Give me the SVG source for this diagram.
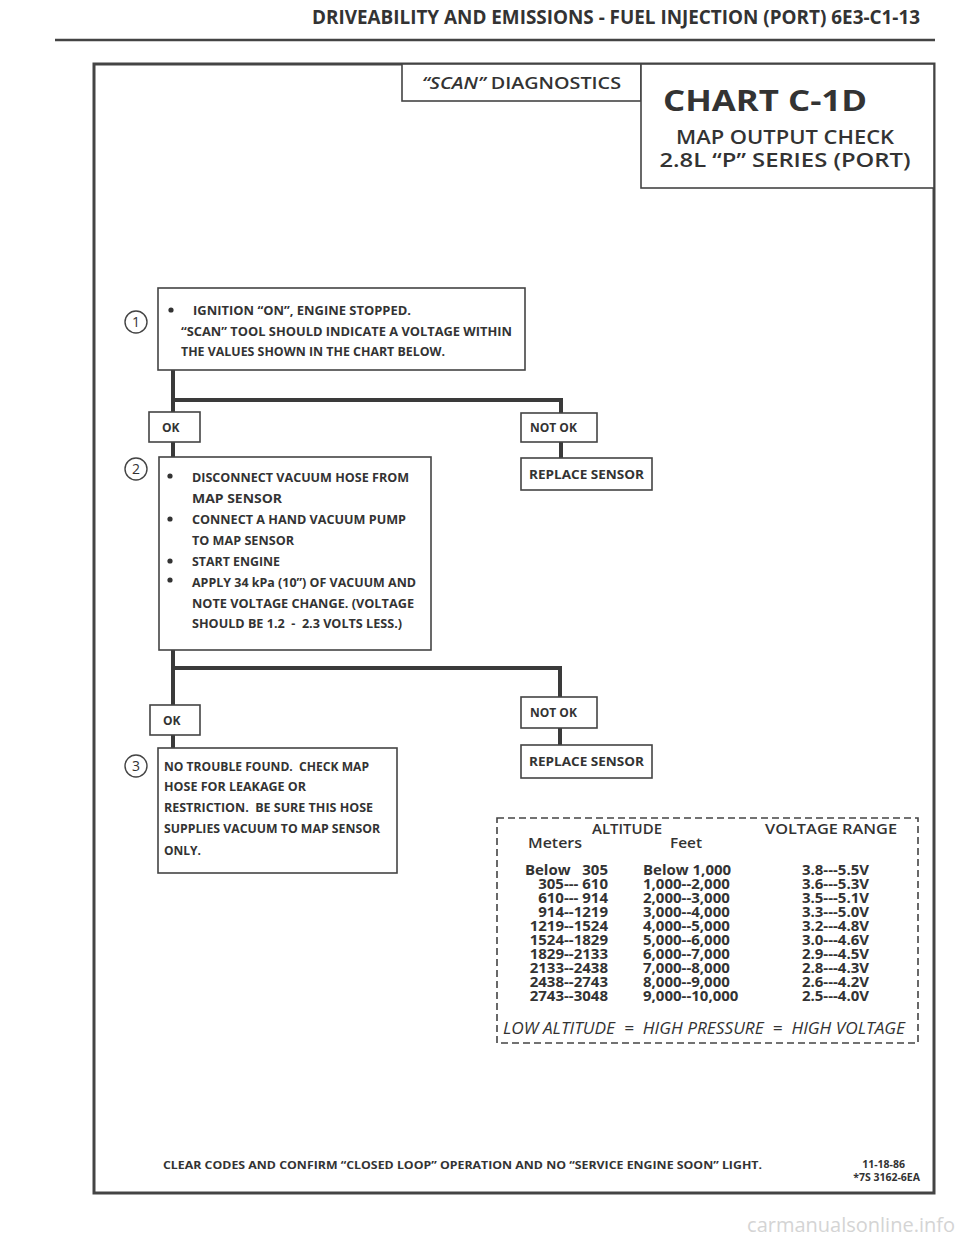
<svg xmlns="http://www.w3.org/2000/svg" width="960" height="1242" viewBox="0 0 960 1242">
<style>
text{font-family:"Open Sans","Liberation Sans",sans-serif;fill:#333;}
.b{font-weight:700;}
.s{font-weight:600;}
.box{fill:#fff;stroke:#444;stroke-width:1.6;}
.frame{fill:none;stroke:#444;stroke-width:3;}
.con{fill:none;stroke:#3a3a3a;stroke-width:4;}
.t12{font-size:12px;font-weight:700;}
.row{font-size:15px;font-weight:700;}
.num{font-size:14px;text-anchor:middle;}
.circ{fill:#fff;stroke:#444;stroke-width:1.4;}
.dot{fill:#333;}
</style>
<rect width="960" height="1242" fill="#fff"/>

<g id="header">
<text x="312" y="24" class="b" font-size="20" textLength="608" lengthAdjust="spacingAndGlyphs">DRIVEABILITY AND EMISSIONS - FUEL INJECTION (PORT)  6E3-C1-13</text>
<line x1="55" y1="40" x2="935" y2="40" stroke="#444" stroke-width="2.5"/>
</g>

<rect class="frame" x="94" y="64" width="840" height="1129"/>

<g id="scan-diagnostics">
<rect class="box" x="402" y="64" width="239" height="37"/>
<text x="422" y="89" class="s" font-size="16" textLength="199" lengthAdjust="spacingAndGlyphs"><tspan font-style="italic">“SCAN”</tspan> DIAGNOSTICS</text>
</g>

<g id="chart-title">
<rect class="box" x="641" y="64" width="293" height="124"/>
<text x="765" y="111" class="b" font-size="28" text-anchor="middle" textLength="204" lengthAdjust="spacingAndGlyphs">CHART C-1D</text>
<text x="785" y="144" class="s" font-size="20" text-anchor="middle" textLength="218" lengthAdjust="spacingAndGlyphs">MAP OUTPUT CHECK</text>
<text x="785" y="167" class="s" font-size="20" text-anchor="middle" textLength="251" lengthAdjust="spacingAndGlyphs">2.8L  “P”  SERIES  (PORT)</text>
</g>

<g id="connectors">
<path class="con" d="M173 370 V412 M173 400 H561 V413"/>
<path class="con" d="M173 442 V457"/>
<path class="con" d="M561 442 V458"/>
<path class="con" d="M173 650 V705 M173 668 H560 V697"/>
<path class="con" d="M173 735 V748"/>
<path class="con" d="M560 728 V745"/>
</g>

<g id="step1">
<circle class="circ" cx="136" cy="322" r="11"/>
<text x="136" y="327" class="num">1</text>
<rect class="box" x="158" y="288" width="367" height="82"/>
<circle class="dot" cx="171" cy="310" r="2.6"/>
<text x="193" y="315" class="t12" font-size="11.5" textLength="218" lengthAdjust="spacingAndGlyphs">IGNITION “ON”, ENGINE STOPPED.</text>
<text x="181" y="336" class="t12" font-size="11.5" textLength="331" lengthAdjust="spacingAndGlyphs">“SCAN” TOOL SHOULD INDICATE A VOLTAGE WITHIN</text>
<text x="181" y="356" class="t12" font-size="11.5" textLength="264" lengthAdjust="spacingAndGlyphs">THE VALUES SHOWN IN THE CHART BELOW.</text>
</g>

<g id="ok1">
<rect class="box" x="149" y="412" width="51" height="30"/>
<text x="162" y="432" class="t12">OK</text>
</g>

<g id="notok1">
<rect class="box" x="521" y="413" width="76" height="29"/>
<text x="530" y="432" class="t12">NOT OK</text>
</g>

<g id="replace1">
<rect class="box" x="521" y="458" width="131" height="32"/>
<text x="529" y="479" class="t12" textLength="115" lengthAdjust="spacingAndGlyphs">REPLACE SENSOR</text>
</g>

<g id="step2">
<circle class="circ" cx="136" cy="469" r="11"/>
<text x="136" y="474" class="num">2</text>
<rect class="box" x="159" y="457" width="272" height="193"/>
<circle class="dot" cx="170" cy="476" r="2.6"/>
<text x="192" y="482" class="t12" textLength="217" lengthAdjust="spacingAndGlyphs">DISCONNECT  VACUUM HOSE FROM</text>
<text x="192" y="503" class="t12" textLength="90" lengthAdjust="spacingAndGlyphs">MAP SENSOR</text>
<circle class="dot" cx="170" cy="519" r="2.6"/>
<text x="192" y="524" class="t12" textLength="214" lengthAdjust="spacingAndGlyphs">CONNECT  A HAND  VACUUM PUMP</text>
<text x="192" y="545" class="t12" textLength="102" lengthAdjust="spacingAndGlyphs">TO MAP SENSOR</text>
<circle class="dot" cx="170" cy="561" r="2.6"/>
<text x="192" y="566" class="t12" textLength="88" lengthAdjust="spacingAndGlyphs">START ENGINE</text>
<circle class="dot" cx="170" cy="580" r="2.6"/>
<text x="192" y="587" class="t12" textLength="224" lengthAdjust="spacingAndGlyphs">APPLY 34 kPa (10”) OF VACUUM AND</text>
<text x="192" y="608" class="t12" textLength="222" lengthAdjust="spacingAndGlyphs">NOTE VOLTAGE CHANGE.  (VOLTAGE</text>
<text x="192" y="628" class="t12" textLength="210" lengthAdjust="spacingAndGlyphs" xml:space="preserve">SHOULD BE 1.2  -  2.3 VOLTS LESS.)</text>
</g>

<g id="ok2">
<rect class="box" x="150" y="705" width="50" height="30"/>
<text x="163" y="725" class="t12">OK</text>
</g>

<g id="notok2">
<rect class="box" x="521" y="697" width="76" height="31"/>
<text x="530" y="717" class="t12">NOT OK</text>
</g>

<g id="replace2">
<rect class="box" x="521" y="745" width="131" height="33"/>
<text x="529" y="766" class="t12" textLength="115" lengthAdjust="spacingAndGlyphs">REPLACE SENSOR</text>
</g>

<g id="step3">
<circle class="circ" cx="136" cy="766" r="11"/>
<text x="136" y="771" class="num">3</text>
<rect class="box" x="158" y="748" width="239" height="125"/>
<text x="164" y="771" class="t12" textLength="205" lengthAdjust="spacingAndGlyphs" xml:space="preserve">NO TROUBLE FOUND.  CHECK MAP</text>
<text x="164" y="791" class="t12" textLength="142" lengthAdjust="spacingAndGlyphs">HOSE FOR LEAKAGE OR</text>
<text x="164" y="812" class="t12" textLength="209" lengthAdjust="spacingAndGlyphs" xml:space="preserve">RESTRICTION.  BE SURE THIS HOSE</text>
<text x="164" y="833" class="t12" textLength="216" lengthAdjust="spacingAndGlyphs">SUPPLIES VACUUM TO MAP SENSOR</text>
<text x="164" y="855" class="t12" textLength="37" lengthAdjust="spacingAndGlyphs">ONLY.</text>
</g>

<g id="altitude-table">
<rect x="497" y="818" width="421" height="225" fill="none" stroke="#444" stroke-width="1.6" stroke-dasharray="7 4"/>
<text x="592" y="834" class="s" font-size="15" textLength="70" lengthAdjust="spacingAndGlyphs">ALTITUDE</text>
<text x="765" y="834" class="s" font-size="15" textLength="132" lengthAdjust="spacingAndGlyphs">VOLTAGE RANGE</text>
<text x="528" y="848" class="s" font-size="15" textLength="54" lengthAdjust="spacingAndGlyphs">Meters</text>
<text x="670" y="848" class="s" font-size="15" textLength="32" lengthAdjust="spacingAndGlyphs">Feet</text>
<text class="row" text-anchor="end" xml:space="preserve"><tspan x="608" y="875">Below   305</tspan><tspan x="608" y="889">305--- 610</tspan><tspan x="608" y="903">610--- 914</tspan><tspan x="608" y="917">914--1219</tspan><tspan x="608" y="930.5">1219--1524</tspan><tspan x="608" y="944.5">1524--1829</tspan><tspan x="608" y="958.5">1829--2133</tspan><tspan x="608" y="972.5">2133--2438</tspan><tspan x="608" y="986.5">2438--2743</tspan><tspan x="608" y="1000.5">2743--3048</tspan></text>
<text class="row"><tspan x="643" y="875">Below 1,000</tspan><tspan x="643" y="889">1,000--2,000</tspan><tspan x="643" y="903">2,000--3,000</tspan><tspan x="643" y="917">3,000--4,000</tspan><tspan x="643" y="930.5">4,000--5,000</tspan><tspan x="643" y="944.5">5,000--6,000</tspan><tspan x="643" y="958.5">6,000--7,000</tspan><tspan x="643" y="972.5">7,000--8,000</tspan><tspan x="643" y="986.5">8,000--9,000</tspan><tspan x="643" y="1000.5">9,000--10,000</tspan></text>
<text class="row" text-anchor="end"><tspan x="869" y="875">3.8---5.5V</tspan><tspan x="869" y="889">3.6---5.3V</tspan><tspan x="869" y="903">3.5---5.1V</tspan><tspan x="869" y="917">3.3---5.0V</tspan><tspan x="869" y="930.5">3.2---4.8V</tspan><tspan x="869" y="944.5">3.0---4.6V</tspan><tspan x="869" y="958.5">2.9---4.5V</tspan><tspan x="869" y="972.5">2.8---4.3V</tspan><tspan x="869" y="986.5">2.6---4.2V</tspan><tspan x="869" y="1000.5">2.5---4.0V</tspan></text>
<text x="503" y="1034" font-size="16" font-style="italic" textLength="402" lengthAdjust="spacingAndGlyphs" xml:space="preserve">LOW ALTITUDE  =  HIGH PRESSURE  =  HIGH VOLTAGE</text>
</g>

<g id="footer">
<text x="163" y="1169" class="b" font-size="10.5" textLength="599" lengthAdjust="spacingAndGlyphs">CLEAR CODES AND CONFIRM “CLOSED LOOP” OPERATION AND NO “SERVICE ENGINE SOON” LIGHT.</text>
<text x="905" y="1168" class="b" font-size="10.5" text-anchor="end">11-18-86</text>
<text x="920" y="1181" class="b" font-size="10.5" text-anchor="end">*7S 3162-6EA</text>
</g>

<text x="955" y="1232" font-size="20" text-anchor="end" style="fill:#d4d4d4">carmanualsonline.info</text>
</svg>
